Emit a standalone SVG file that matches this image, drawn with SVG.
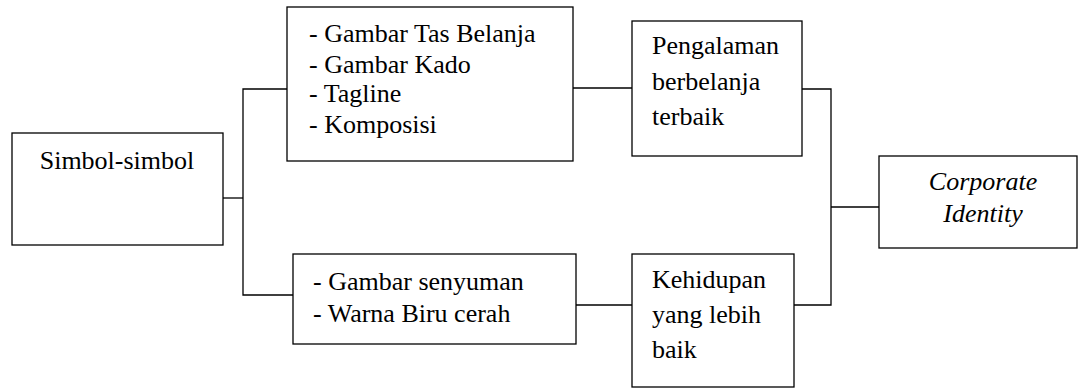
<svg xmlns="http://www.w3.org/2000/svg" width="1078" height="389" viewBox="0 0 1078 389" font-family="Liberation Serif" font-size="26">
<rect width="1078" height="389" fill="#fff"/>
<g id="connectors" fill="none" stroke="#000" stroke-width="1.3">
<polyline points="223,198 243,198"/>
<polyline points="288,89 243,89 243,295 293,295"/>
<polyline points="573,88 632,88"/>
<polyline points="576,305 632,305"/>
<polyline points="802,89 831,89 831,305 794,305"/>
<polyline points="831,207 879,207"/>
</g>
<g id="simbol">
<rect x="12" y="133" width="211" height="112" fill="#fff" stroke="#000" stroke-width="1.3"/>
<text x="117" y="169" text-anchor="middle">Simbol-simbol</text>
</g>
<g id="list-top">
<rect x="287" y="7" width="286" height="154" fill="#fff" stroke="#000" stroke-width="1.3"/>
<text x="309" y="42">- Gambar Tas Belanja</text>
<text x="309" y="73">- Gambar Kado</text>
<text x="309" y="102">- Tagline</text>
<text x="309" y="133">- Komposisi</text>
</g>
<g id="list-bottom">
<rect x="293" y="254" width="283" height="90" fill="#fff" stroke="#000" stroke-width="1.3"/>
<text x="313" y="290">- Gambar senyuman</text>
<text x="313" y="322">- Warna Biru cerah</text>
</g>
<g id="pengalaman">
<rect x="632" y="21" width="170" height="135" fill="#fff" stroke="#000" stroke-width="1.3"/>
<text x="652" y="54">Pengalaman</text>
<text x="652" y="90">berbelanja</text>
<text x="652" y="125">terbaik</text>
</g>
<g id="kehidupan">
<rect x="632" y="254" width="162" height="133" fill="#fff" stroke="#000" stroke-width="1.3"/>
<text x="652" y="288">Kehidupan</text>
<text x="652" y="323">yang lebih</text>
<text x="652" y="358">baik</text>
</g>
<g id="corporate">
<rect x="879" y="156" width="198" height="92" fill="#fff" stroke="#000" stroke-width="1.3"/>
<text x="983" y="190" text-anchor="middle" font-style="italic">Corporate</text>
<text x="983" y="222" text-anchor="middle" font-style="italic">Identity</text>
</g>
</svg>
